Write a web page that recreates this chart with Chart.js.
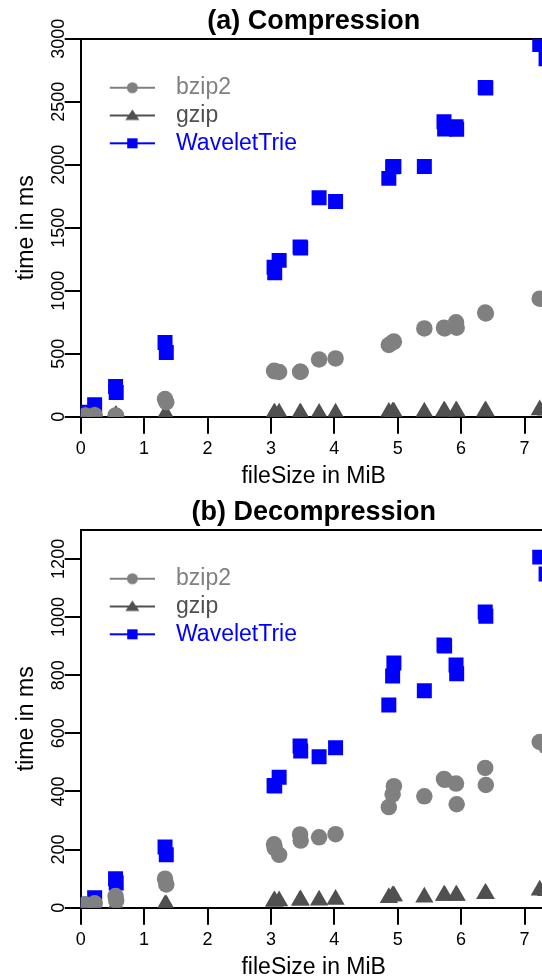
<!DOCTYPE html>
<html>
<head>
<meta charset="utf-8">
<script src="https://cdn.jsdelivr.net/npm/chart.js@4/dist/chart.umd.min.js"></script>
<style>
  html, body { margin: 0; padding: 0; background: #fff; overflow: hidden; }
  .panel { position: absolute; left: 0; width: 600px; height: 490px; }
</style>
</head>
<body>
<div class="panel" style="top:0"><canvas id="compChart"></canvas></div>
<div class="panel" style="top:491px"><canvas id="decompChart"></canvas></div>
<script>
// file size of each test file, in MiB
const fileSizes = [0.07, 0.22, 0.55, 0.56, 1.33, 1.35, 3.05, 3.06, 3.13, 3.46, 3.47, 3.76, 4.02,
                   4.86, 4.92, 4.94, 5.42, 5.73, 5.74, 5.92, 5.93, 6.38, 6.39, 7.24, 7.34];

// (a) compression time in ms
const compBzip2   = [10, 12, 10, 5, 140, 115, 365, 360, 355, 357, 357, 455, 463,
                     569, 590, 596, 701, 707, 700, 749, 707, 827, 820, 937, 925];
const compGzip    = [2, 4, 8, 6, 14, 12, 26, 26, 27, 27, 26, 26, 27,
                     34, 36, 36, 36, 44, 42, 44, 42, 44, 43, 53, 52];
const compWavelet = [35, 94, 240, 192, 589, 510, 1186, 1143, 1241, 1347, 1340, 1738, 1708,
                     1892, 1985, 1987, 1987, 2341, 2283, 2302, 2281, 2614, 2610, 2954, 2841];

// (b) decompression time in ms
const decompBzip2   = [12, 15, 40, 25, 100, 80, 218, 205, 182, 252, 231, 242, 253,
                       346, 390, 418, 383, 443, 440, 427, 356, 481, 422, 570, 555];
const decompGzip    = [3, 4, 6, 5, 9, 9, 22, 22, 23, 26, 26, 26, 28,
                       34, 40, 40, 36, 42, 42, 42, 42, 48, 48, 60, 58];
const decompWavelet = [12, 34, 100, 85, 209, 182, 420, 419, 449, 556, 539, 519, 550,
                       697, 797, 842, 746, 904, 900, 835, 805, 1017, 1003, 1206, 1148];

// tick labels
const xTicks = [0, 1, 2, 3, 4, 5, 6, 7];
const compTicks = [0, 500, 1000, 1500, 2000, 2500, 3000];
const decompTicks = [0, 200, 400, 600, 800, 1000, 1200];

const seriesNames = ['bzip2', 'gzip', 'WaveletTrie'];
const seriesColors = ['#808080', '#505050', '#0000ff'];
const seriesStyles = ['circle', 'triangle', 'rect'];
const seriesRadius = [8.25, 10.5, 10.6];

Chart.defaults.font.family = '"Liberation Sans", Arial, Helvetica, sans-serif';
Chart.defaults.color = '#000';

// legend glyph: short line with the marker in the middle
function legendIcon(color, style) {
    const c = document.createElement('canvas');
    c.width = 80;
    c.height = 18;
    const g = c.getContext('2d');
    const cx = 47.4, cy = 9;
    g.strokeStyle = color;
    g.lineWidth = 2;
    g.beginPath();
    g.moveTo(cx - 22.6, cy);
    g.lineTo(cx + 22.6, cy);
    g.stroke();
    g.fillStyle = color;
    g.beginPath();
    if (style === 'circle') {
        g.arc(cx, cy, 5.5, 0, Math.PI * 2);
    } else if (style === 'triangle') {
        g.moveTo(cx, cy - 6);
        g.lineTo(cx + 7, cy + 4.5);
        g.lineTo(cx - 7, cy + 4.5);
        g.closePath();
    } else {
        g.rect(cx - 5.2, cy - 5, 10.4, 10);
    }
    g.fill();
    return c;
}
const icons = seriesNames.map((n, i) => legendIcon(seriesColors[i], seriesStyles[i]));

function makeChart(id, titleText, values, yMax, yTicks) {
    const datasets = values.map((vals, i) => ({
        label: seriesNames[i],
        data: fileSizes.map((x, j) => ({x: x, y: vals[j]})),
        pointStyle: seriesStyles[i],
        pointRadius: seriesRadius[i],
        pointHoverRadius: seriesRadius[i],
        backgroundColor: seriesColors[i],
        borderWidth: 0,
        clip: {left: 0, top: 0, right: 20, bottom: 0}
    }));

    return new Chart(document.getElementById(id), {
        type: 'scatter',
        data: { datasets: datasets },
        options: {
            animation: false,
            events: [],
            responsive: true,
            maintainAspectRatio: false,
            devicePixelRatio: 1,
            layout: { padding: { left: 0, top: 0, right: 53.3, bottom: 0 } },
            plugins: {
                title: {
                    display: true,
                    text: titleText,
                    fullSize: false,
                    color: '#000',
                    font: { size: 27, weight: 'bold' },
                    padding: { top: 5.3, bottom: 1.1 }
                },
                legend: {
                    position: 'chartArea',
                    align: 'start',
                    // empty title only pushes the entries down
                    title: { display: true, text: '', font: { size: 10 }, padding: { top: 59.4, bottom: 0 } },
                    labels: {
                        usePointStyle: true,
                        pointStyleWidth: 79,
                        padding: 4.8,
                        font: { size: 23 },
                        generateLabels: () => seriesNames.map((n, i) => ({
                            text: n,
                            fontColor: seriesColors[i],
                            fillStyle: seriesColors[i],
                            strokeStyle: seriesColors[i],
                            lineWidth: 0,
                            pointStyle: icons[i],
                            hidden: false,
                            datasetIndex: i
                        }))
                    }
                },
                tooltip: { enabled: false }
            },
            scales: {
                x: {
                    type: 'linear',
                    position: 'bottom',
                    min: 0,
                    max: 7.35,
                    ticks: { font: { size: 18 }, color: '#000', padding: 4.8, maxRotation: 0, autoSkip: false },
                    grid: { drawOnChartArea: false, drawTicks: true, tickLength: 17, lineWidth: 2, color: '#000' },
                    border: { display: true, color: '#000', width: 2 },
                    title: { display: true, text: 'fileSize in MiB', font: { size: 23 }, color: '#000', padding: { top: 0, bottom: 0 } },
                    afterBuildTicks: s => { s.ticks = xTicks.map(v => ({value: v})); },
                    afterFit: s => { s.height = 73.3; }
                },
                xTop: {
                    type: 'linear',
                    position: 'top',
                    min: 0,
                    max: 1,
                    ticks: { display: false },
                    grid: { drawOnChartArea: false, drawTicks: false },
                    border: { display: true, color: '#000', width: 2 },
                    afterFit: s => { s.height = 0; }
                },
                y: {
                    type: 'linear',
                    min: 0,
                    max: yMax,
                    ticks: {
                        font: { size: 18 },
                        color: '#000',
                        minRotation: 90,
                        maxRotation: 90,
                        crossAlign: 'center',
                        padding: -14.5,
                        autoSkip: false,
                        callback: v => String(v)
                    },
                    grid: { drawOnChartArea: false, drawTicks: true, tickLength: 16, lineWidth: 2, color: '#000' },
                    border: { display: true, color: '#000', width: 2 },
                    title: { display: true, text: 'time in ms', font: { size: 23 }, color: '#000', padding: { top: 12.8, bottom: 0 } },
                    afterBuildTicks: s => { s.ticks = yTicks.map(v => ({value: v})); },
                    afterFit: s => { s.width = 80.7; }
                }
            }
        }
    });
}

makeChart('compChart', '(a) Compression', [compBzip2, compGzip, compWavelet], 3000, compTicks);
makeChart('decompChart', '(b) Decompression', [decompBzip2, decompGzip, decompWavelet], 1300, decompTicks);
</script>
</body>
</html>
